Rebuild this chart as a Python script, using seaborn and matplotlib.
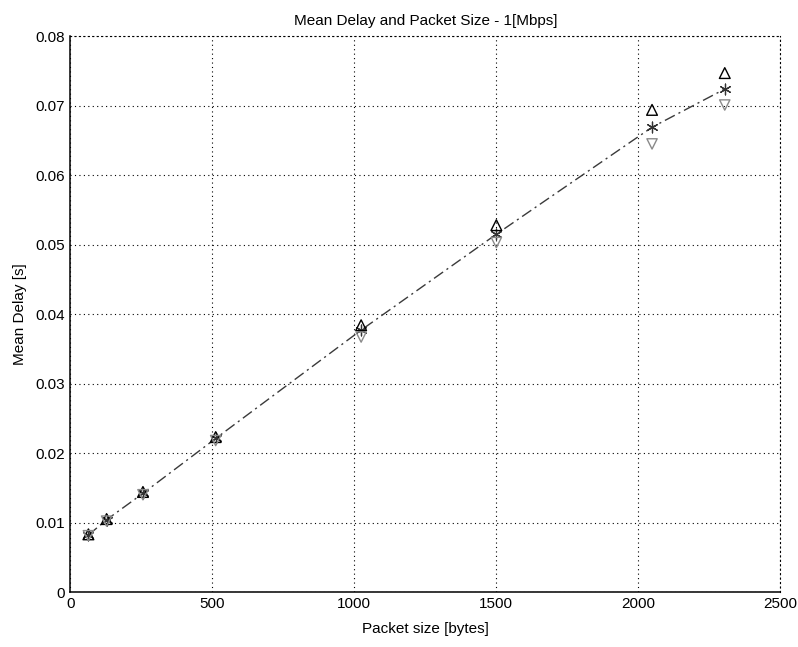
import matplotlib
matplotlib.use("Agg")
import matplotlib.pyplot as plt
import seaborn as sns
import pandas as pd

packet_sizes = [64, 128, 256, 512, 1024, 1500, 2048, 2304]
delay_upper = [0.0083, 0.0105, 0.0144, 0.0223, 0.0384, 0.0528, 0.0694, 0.0747]
delay_mean = [0.0082, 0.0104, 0.0142, 0.0221, 0.0377, 0.0515, 0.0669, 0.0724]
delay_lower = [0.0081, 0.0102, 0.0140, 0.0218, 0.0367, 0.0503, 0.0645, 0.0701]

x_ticks = [0, 500, 1000, 1500, 2000, 2500]
y_ticks = [0, 0.01, 0.02, 0.03, 0.04, 0.05, 0.06, 0.07, 0.08]
y_tick_labels = ["0", "0.01", "0.02", "0.03", "0.04", "0.05", "0.06", "0.07", "0.08"]

sns.set_style("white")
plt.rcParams['font.family'] = ['Liberation Sans', 'DejaVu Sans']
plt.rcParams['text.color'] = 'black'
plt.rcParams['axes.labelcolor'] = 'black'

df = pd.DataFrame({"size": packet_sizes, "upper": delay_upper,
                   "mean": delay_mean, "lower": delay_lower})

fig = plt.figure(figsize=(7.98, 6.47), dpi=100)
ax = fig.add_axes([0.088, 0.085, 0.89, 0.859])

sns.lineplot(data=df, x="size", y="mean", ax=ax, color="#3a3a3a",
             linestyle=(0, (8, 3, 1.5, 3)), linewidth=1.0)
sns.scatterplot(data=df, x="size", y="mean", ax=ax, marker=(6, 2, 0), s=60,
                color="#333333", linewidth=0.9, zorder=5)
sns.scatterplot(data=df, x="size", y="upper", ax=ax, marker="^", s=60,
                facecolor="none", edgecolor="black", linewidth=1.0, zorder=5)
sns.scatterplot(data=df, x="size", y="lower", ax=ax, marker="v", s=55,
                facecolor="none", edgecolor="#8a8a8a", linewidth=1.0, zorder=5)

ax.set_xlim(0, 2500)
ax.set_ylim(0, 0.08)
ax.set_xticks(x_ticks)
ax.set_yticks(y_ticks)
ax.set_yticklabels(y_tick_labels)
ax.grid(True, linestyle=(0, (1, 3)), color="black", linewidth=0.8)
ax.tick_params(direction="in", length=5, labelsize=11, colors="black")
for name, sp in ax.spines.items():
    sp.set_visible(True)
    sp.set_color("black")
    if name in ("top", "right"):
        sp.set_linestyle((0, (1, 3)))
        sp.set_linewidth(0.8)
    else:
        sp.set_linewidth(1.1)

ax.set_title("Mean Delay and Packet Size - 1[Mbps]", fontsize=11, pad=8, color="black")
ax.set_xlabel("Packet size [bytes]", fontsize=11, labelpad=8)
ax.set_ylabel("Mean Delay [s]", fontsize=11, labelpad=6)

fig.savefig("out.png", dpi=100)
